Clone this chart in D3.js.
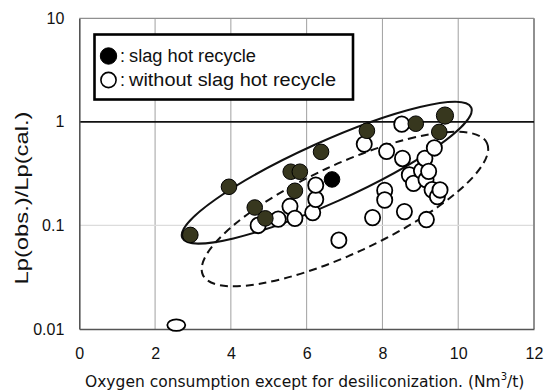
<!DOCTYPE html>
<html><head><meta charset="utf-8">
<script src="https://cdn.jsdelivr.net/npm/d3@7"></script>
<style>
html,body{margin:0;padding:0;background:#fff;}
svg{display:block;}
</style></head>
<body>
<svg id="c" width="544" height="392"></svg>
<script>
// ---- data ----
const xTicks = [0, 2, 4, 6, 8, 10, 12];
const yTicks = [0.01, 0.1, 1, 10];
const yTickLabels = ["0.01", "0.1", "1", "10"];
const legendLabels = ["slag hot recycle", "without slag hot recycle"];
const xTitle = "Oxygen consumption except for desiliconization. (Nm";
const yTitle = "Lp(obs.)/Lp(cal.)";

// slag hot recycle (filled)
const slagX = [2.93, 3.95, 4.63, 4.91, 5.58, 5.82, 5.69, 6.38, 7.59, 8.88, 9.65, 9.50];
const slagY = [0.081, 0.236, 0.149, 0.117, 0.33, 0.33, 0.216, 0.513, 0.82, 0.96, 1.15, 0.80];
// one point drawn pure black
const slagBlackX = [6.67];
const slagBlackY = [0.278];
// without slag hot recycle (open)
const noSlagX = [2.56, 4.72, 5.25, 5.56, 5.69, 6.16, 6.24, 6.24, 6.85, 7.52, 7.74, 8.06, 8.06, 8.11, 8.51, 8.53, 8.58,
                 8.71, 8.82, 9.03, 9.12, 9.15, 9.16, 9.22, 9.31, 9.37, 9.45, 9.52];
const noSlagY = [0.0109, 0.100, 0.115, 0.153, 0.117, 0.133, 0.179, 0.245, 0.072, 0.61, 0.119, 0.218, 0.176, 0.52, 0.95, 0.443, 0.136,
                 0.307, 0.255, 0.337, 0.443, 0.277, 0.114, 0.333, 0.221, 0.56, 0.19, 0.22];
// grouping ellipses: centre in data units
const ellipseCx = [6.53, 7.01];
const ellipseCy = [0.323, 0.144];
const ellipseKind = ["solid", "dashed"];

// ---- drawing ----
const svg = d3.select("#c");
const x = d3.scaleLinear().domain([0, 12]).range([79.3, 534]);
const y = d3.scaleLog().domain([0.01, 10]).range([329, 18.3]);
const fontTick = "'Liberation Sans', Arial, sans-serif";

// grid
svg.append("g").selectAll("line").data(xTicks.slice(1, -1)).join("line")
  .attr("x1", d => x(d)).attr("x2", d => x(d)).attr("y1", y(10)).attr("y2", y(0.01))
  .attr("stroke", "#a0a0a0").attr("stroke-width", 1);
svg.append("line").attr("x1", x(0)).attr("x2", x(12)).attr("y1", y(0.1)).attr("y2", y(0.1))
  .attr("stroke", "#dcdcdc").attr("stroke-width", 1.2);
// border top/right
svg.append("line").attr("x1", x(0)).attr("x2", x(12)).attr("y1", y(10)).attr("y2", y(10))
  .attr("stroke", "#909090").attr("stroke-width", 1.2);
svg.append("line").attr("x1", x(12)).attr("x2", x(12)).attr("y1", y(10)).attr("y2", y(0.01))
  .attr("stroke", "#909090").attr("stroke-width", 2);
// reference line at 1
svg.append("line").attr("x1", x(0)).attr("x2", x(12)).attr("y1", y(1)).attr("y2", y(1))
  .attr("stroke", "#111").attr("stroke-width", 1.6);

// axes
const xAxis = svg.append("g").attr("transform", `translate(0,${y(0.01)})`)
  .call(d3.axisBottom(x).tickValues(xTicks).tickSize(0).tickPadding(19).tickFormat(d3.format("d")));
const yAxis = svg.append("g").attr("transform", `translate(${x(0)},0)`)
  .call(d3.axisLeft(y).tickValues(yTicks).tickSize(0).tickPadding(15).tickFormat((d, i) => yTickLabels[i]));
[xAxis, yAxis].forEach(g => {
  g.select(".domain").attr("stroke", "#555").attr("stroke-width", 1.6);
  g.selectAll("text").attr("font-family", fontTick).attr("font-size", 16).attr("fill", "#111");
});

// ellipses
const ellA = [158.5, 156.6], ellB = [30.4, 44.4], ellRot = [-24.3, -24.9];
svg.append("g").selectAll("ellipse").data(ellipseCx).join("ellipse")
  .attr("cx", 0).attr("cy", 0)
  .attr("rx", (d, i) => ellA[i]).attr("ry", (d, i) => ellB[i])
  .attr("transform", (d, i) => `translate(${x(d)},${y(ellipseCy[i])}) rotate(${ellRot[i]})`)
  .attr("fill", "none").attr("stroke", "#111").attr("stroke-width", 2)
  .attr("stroke-dasharray", (d, i) => ellipseKind[i] === "dashed" ? "8,5" : null);

// open points
svg.append("g").selectAll("ellipse").data(noSlagX).join("ellipse")
  .attr("cx", d => x(d)).attr("cy", (d, i) => y(noSlagY[i]))
  .attr("rx", (d, i) => noSlagY[i] < 0.02 ? 9 : 7.6)
  .attr("ry", (d, i) => noSlagY[i] < 0.02 ? 5.8 : 7.8)
  .attr("fill", "#fff").attr("stroke", "#000").attr("stroke-width", 1.8);
// filled points
svg.append("g").selectAll("circle").data(slagX).join("circle")
  .attr("cx", d => x(d)).attr("cy", (d, i) => y(slagY[i]))
  .attr("r", (d, i) => slagY[i] > 1 ? 8.6 : 7.8)
  .attr("fill", "#37371e").attr("stroke", "#000").attr("stroke-width", 1);
svg.append("g").selectAll("circle").data(slagBlackX).join("circle")
  .attr("cx", d => x(d)).attr("cy", (d, i) => y(slagBlackY[i]))
  .attr("r", 7.8).attr("fill", "#000").attr("stroke", "#000");

// legend
const lg = svg.append("g");
lg.append("rect").attr("x", 94.5).attr("y", 34.5).attr("width", 258.5).attr("height", 65)
  .attr("fill", "#fff").attr("stroke", "#000").attr("stroke-width", 2.6);
legendLabels.forEach((t, i) => {
  const cy = 56 + i * 24;
  lg.append("circle").attr("cx", 108.5).attr("cy", cy).attr("r", i === 0 ? 8.2 : 7.6)
    .attr("fill", i === 0 ? "#000" : "#fff").attr("stroke", "#000").attr("stroke-width", i === 0 ? 1 : 1.6);
  lg.append("text").attr("x", 120).attr("y", cy + 6).attr("font-family", fontTick).attr("font-size", 18)
    .attr("fill", "#111").text(":");
  lg.append("text").attr("x", 129).attr("y", cy + 6).attr("font-family", fontTick).attr("font-size", 18)
    .attr("fill", "#111").attr("textLength", i === 0 ? 127 : 207).attr("lengthAdjust", "spacingAndGlyphs").text(t);
});

// titles
const xt = svg.append("text").attr("x", 85).attr("y", 386.5).attr("font-family", "'DejaVu Sans', sans-serif")
  .attr("font-size", 15.5).attr("fill", "#111");
xt.append("tspan").text(xTitle);
xt.append("tspan").attr("dy", -7).attr("font-size", 10).text("3");
xt.append("tspan").attr("dy", 7).text("/t)");

svg.append("text").attr("transform", "translate(28,198) rotate(-90)").attr("text-anchor", "middle")
  .attr("font-family", "'Liberation Sans', Arial, sans-serif").attr("font-size", 19).attr("fill", "#111")
  .attr("textLength", 173).attr("lengthAdjust", "spacingAndGlyphs").text(yTitle);
</script>
</body></html>
